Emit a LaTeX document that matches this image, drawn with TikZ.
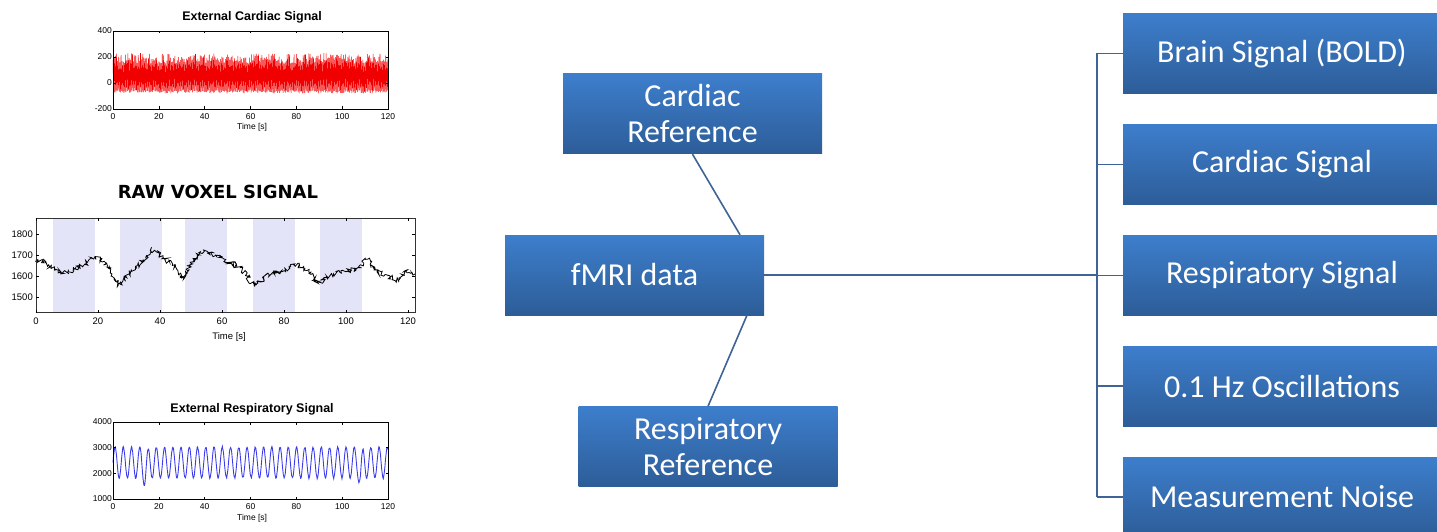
\documentclass[tikz,border=0pt]{standalone}
\usepackage{fontspec}
\setmainfont{Carlito}
\newfontfamily\plotfont{Liberation Sans}
\newfontfamily\voxfont{DejaVu Sans}
\usetikzlibrary{positioning,decorations.pathmorphing}
\definecolor{boxtop}{RGB}{61,126,204}
\definecolor{boxbot}{RGB}{45,93,152}
\definecolor{linkblue}{RGB}{62,100,150}
\definecolor{band}{RGB}{228,228,248}
\definecolor{ecgred}{RGB}{240,0,0}
\definecolor{respblue}{RGB}{60,60,235}

\begin{document}
\begin{tikzpicture}[x=1pt, y=1pt,
  blk/.style={top color=boxtop, bottom color=boxbot, text=white, minimum width=259pt, minimum height=80pt,
    inner sep=0pt, align=center, font=\fontsize{32}{36}\selectfont},
  sigbox/.style={blk, minimum width=318pt},
  link/.style={draw=linkblue, line width=1.6pt},
  tick/.style={font=\plotfont\fontsize{8.5}{8.5}\selectfont, inner sep=1pt},
  ptitle/.style={font=\plotfont\bfseries\fontsize{12.5}{12.5}\selectfont, inner sep=0pt}]
  \useasboundingbox (0,0) rectangle (1437,531);

  % external cardiac recording
  \begin{scope}[shift={(113pt,448pt)}, x=2.2917pt, y=0.13pt]
    \pgfmathsetseed{11}
    \draw[ecgred, line width=0.5pt] plot[domain=0:120, samples=481]
      (\x, {(1-mod(round(\x*4),2))*(150+80*rnd) - mod(round(\x*4),2)*(55+25*rnd)});
    \draw[line width=0.6pt] (0,-200) rectangle (120,400);
    \foreach \t in {0,20,...,120} {
      \draw[line width=0.5pt] (\t,-200) -- ++(0,2.5pt) (\t,400) -- ++(0,-2.5pt);
      \node[tick, below=3pt] at (\t,-200) {\t};
    }
    \foreach \v in {-200,0,200,400} {
      \draw[line width=0.5pt] (0,\v) -- ++(2.5pt,0) (120,\v) -- ++(-2.5pt,0);
      \node[tick, left] at (0,\v) {\v};
    }
    \node[ptitle] (cardtitle) at (60.7,507) {External Cardiac Signal};
    \node[tick] (cardtime) at (60.7,-338) {Time [s]};
  \end{scope}

  % voxel time course with task blocks
  \begin{scope}[shift={(36pt,-81pt)}, x=3.1pt, y=0.21pt]
    \foreach \a in {5.5,27,48,70,91.5}
      \fill[band] (\a,1424) rectangle ++(13.6,452);
    \pgfmathsetseed{5}
    \draw[line width=0.8pt, decorate, decoration={random steps, segment length=1.1pt, amplitude=2.6pt}]
      plot coordinates {(0,1680) (3,1665) (8,1610) (12,1630) (16,1660) (19,1690)
      (22,1670) (24.5,1610) (26.5,1555) (30,1610) (34,1660) (37,1725) (41,1690) (44,1650) (47,1590)
      (50,1660) (53,1715) (58,1700) (63,1660) (66,1640) (70.5,1550) (75,1610) (80,1625) (82,1645)
      (85,1650) (88,1620) (91,1565) (96,1610) (100,1620) (104,1640) (107,1680) (110,1620) (115,1590)
      (117,1575) (119,1625) (122.3,1610)};
    \draw[line width=1pt, black!80] (0,1424) rectangle (122.3,1876);
    \foreach \t in {0,20,...,120} {
      \draw[line width=0.6pt] (\t,1424) -- ++(0,3pt) (\t,1876) -- ++(0,-3pt);
      \node[tick, font=\plotfont\fontsize{9.5}{9.5}\selectfont, below=4pt] at (\t,1424) {\t};
    }
    \foreach \v in {1500,1600,1700,1800} {
      \draw[line width=0.6pt] (0,\v) -- ++(3pt,0) (122.3,\v) -- ++(-3pt,0);
      \node[tick, font=\plotfont\fontsize{9.5}{9.5}\selectfont, left=2pt] at (0,\v) {\v};
    }
    \node[font=\voxfont\bfseries\fontsize{18}{18}\selectfont] (voxtitle) at (58.7,2000) {RAW VOXEL SIGNAL};
    \node[tick, font=\plotfont\fontsize{9.5}{9.5}\selectfont] (voxtime) at (62.3,1310) {Time [s]};
  \end{scope}

  % external respiratory recording
  \begin{scope}[shift={(113pt,6.33pt)}, x=2.2917pt, y=0.02567pt]
    \pgfmathsetseed{3}
    \draw[respblue, line width=0.9pt] plot[domain=0:120, samples=700]
      (\x, {2420 + (560+70*rnd)*sin(\x*100) - 500*max(0,1-abs(\x-108)/1.2) - 380*max(0,1-abs(\x-14)/1.6)});
    \draw[line width=0.6pt] (0,1000) rectangle (120,4000);
    \foreach \t in {0,20,...,120} {
      \draw[line width=0.5pt] (\t,1000) -- ++(0,2.5pt) (\t,4000) -- ++(0,-2.5pt);
      \node[tick, below=3pt] at (\t,1000) {\t};
    }
    \foreach \v in {1000,2000,3000,4000} {
      \draw[line width=0.5pt] (0,\v) -- ++(2.5pt,0) (120,\v) -- ++(-2.5pt,0);
      \node[tick, left] at (0,\v) {\v};
    }
    \node[ptitle] (resptitle) at (60.7,4506) {External Respiratory Signal};
    \node[tick] (resptime) at (60.7,260) {Time [s]};
  \end{scope}

  % data and its references
  \node[blk] (fmri) at (634.5,256) {fMRI data};
  \node[blk] (cardref) at (692.5,417) {Cardiac\\Reference};
  \node[blk] (respref) at (708,84.5) {Respiratory\\Reference};

  % signal components
  \node[sigbox] (bold) at (1282,477.5) {Brain Signal (BOLD)};
  \node[sigbox, below=30.5pt of bold] (card) {Cardiac Signal};
  \node[sigbox, below=30.5pt of card] (resp) {Respiratory Signal};
  \node[sigbox, below=30.5pt of resp] (osc) {0.1 Hz Oscillations};
  \node[sigbox, below=30.5pt of osc] (noise) {Measurement Noise};

  \draw[link] (cardref.south) -- ([xshift=105.5pt]fmri.north);
  \draw[link] ([xshift=112.5pt]fmri.south) -- (respref.north);
  \coordinate (bus) at ([xshift=-26pt]bold.west);
  \draw[link] (fmri.east) -- (bus |- fmri.east);
  \draw[link] (bus) -- (bus |- noise.west);
  \foreach \n in {bold,card,resp,osc,noise}
    \draw[link] (bus |- \n.west) -- (\n.west);
\end{tikzpicture}
\end{document}
